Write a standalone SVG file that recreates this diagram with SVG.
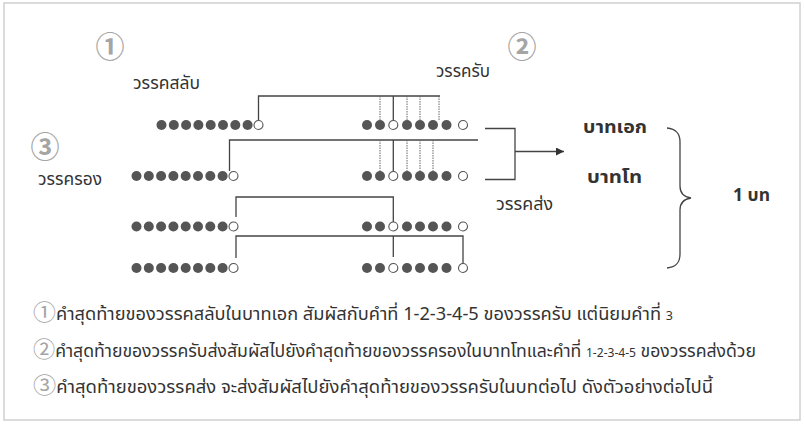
<svg xmlns="http://www.w3.org/2000/svg" width="804" height="425" viewBox="0 0 804 425">
<defs>
<style>
.bg{fill:#fff}
.frame{fill:none;stroke:#d0d0d0;stroke-width:1.5}
.f{fill:#555}
.o{fill:#fff;stroke:#555;stroke-width:1.1}
.ln{fill:none;stroke:#444;stroke-width:1.3}
.dt{fill:none;stroke:#666;stroke-width:1;stroke-dasharray:1.5 1}
.num{font-family:'Noto Sans CJK JP','DejaVu Sans',sans-serif;fill:#a5a5a5}
.big{font-weight:bold}
.lb{font-family:'Noto Sans Thai','Noto Sans','DejaVu Sans',sans-serif;font-size:17px;fill:#333}
.bd{font-family:'Noto Sans Thai','Noto Sans','DejaVu Sans',sans-serif;font-size:18px;font-weight:bold;fill:#333}
.tx{font-family:'Noto Sans Thai','Noto Sans','DejaVu Sans',sans-serif;font-size:17.5px;fill:#333}
</style>
<marker id="ah" viewBox="0 0 10 10" refX="10" refY="5" markerWidth="12" markerHeight="8" markerUnits="userSpaceOnUse" orient="auto"><path d="M0,0L10,5L0,10z" fill="#333"/></marker>
<g id="L"><circle class="f" cx="0" cy="0" r="5"/><circle class="f" cx="12.3" cy="0" r="5"/><circle class="f" cx="24.6" cy="0" r="5"/><circle class="f" cx="36.9" cy="0" r="5"/><circle class="f" cx="49.2" cy="0" r="5"/><circle class="f" cx="61.5" cy="0" r="5"/><circle class="f" cx="73.8" cy="0" r="5"/><circle class="f" cx="86.1" cy="0" r="5"/><circle class="o" cx="97" cy="0" r="4.5"/></g>
<g id="R"><circle class="f" cx="0" cy="0" r="5"/><circle class="f" cx="13" cy="0" r="5"/><circle class="o" cx="26.3" cy="0" r="4.5"/><circle class="f" cx="40" cy="0" r="5"/><circle class="f" cx="53" cy="0" r="5"/><circle class="f" cx="66" cy="0" r="5"/><circle class="f" cx="79.5" cy="0" r="5"/><circle class="o" cx="96" cy="0" r="4.5"/></g>
</defs>
<rect class="bg" x="0" y="0" width="804" height="425"/>
<rect class="frame" x="4" y="3" width="796" height="417"/>

<g id="connectors">
<path class="ln" d="M258.5,120.5V96H440"/>
<path class="dt" d="M380,96V120M407,96V120M420,96V120M439,96V120"/>
<path class="ln" d="M393.3,96V120.5"/>
<path class="ln" d="M229.5,171V140H478"/>
<path class="dt" d="M380,140V171M407,140V171M420,140V171M433,140V171"/>
<path class="ln" d="M393.3,140V171.5"/>
<path class="ln" d="M236,217V197H393.3V222"/>
<path class="ln" d="M236,258V236H463V266"/>
<path class="ln" d="M393.3,236V257"/>
<path class="ln" d="M485,128.5H515V179.5H485"/>
<path class="ln" d="M515,151.5H564" marker-end="url(#ah)"/>
<path class="ln" d="M667,128C676,129 680,133 680,142V186C680,193 684,197 691,198C684,199 680,203 680,210V254C680,263 676,267 667,268"/>
</g>

<g id="row1"><use href="#L" x="161.5" y="125"/><use href="#R" x="367" y="125"/></g>
<g id="row2"><use href="#L" x="136.5" y="176"/><use href="#R" x="367" y="176"/></g>
<g id="row3"><use href="#L" x="136.5" y="226.5"/><use href="#R" x="367" y="226.5"/></g>
<g id="row4"><use href="#L" x="136.5" y="268"/><use href="#R" x="367" y="268"/></g>

<g id="num1"><text class="num big" x="110" y="58" font-size="29" text-anchor="middle">①</text></g>
<g id="num2"><text class="num big" x="522" y="58" font-size="29" text-anchor="middle">②</text></g>
<g id="num3"><text class="num big" x="45" y="158" font-size="29" text-anchor="middle">③</text></g>

<g id="lbl-salap"><text class="lb" x="133" y="89" textLength="67" lengthAdjust="spacingAndGlyphs">วรรคสลับ</text></g>
<g id="lbl-rap"><text class="lb" x="436" y="77" textLength="54" lengthAdjust="spacingAndGlyphs">วรรครับ</text></g>
<g id="lbl-rong"><text class="lb" x="38" y="185" textLength="64" lengthAdjust="spacingAndGlyphs">วรรครอง</text></g>
<g id="lbl-song"><text class="lb" x="496" y="210" textLength="57" lengthAdjust="spacingAndGlyphs">วรรคส่ง</text></g>
<g id="lbl-ek"><text class="bd" x="583" y="133" textLength="64" lengthAdjust="spacingAndGlyphs">บาทเอก</text></g>
<g id="lbl-tho"><text class="bd" x="587" y="183" textLength="55" lengthAdjust="spacingAndGlyphs">บาทโท</text></g>
<g id="lbl-bot"><text class="bd" x="733" y="201" font-size="16" textLength="37" lengthAdjust="spacingAndGlyphs">1 บท</text></g>

<g id="notes">
<text class="tx" x="33" y="320" textLength="640" lengthAdjust="spacingAndGlyphs"><tspan class="num" font-size="22">①</tspan>คำสุดท้ายของวรรคสลับในบาทเอก สัมผัสกับคำที่ 1-2-3-4-5 ของวรรครับ แต่นิยมคำที่ <tspan font-size="12">3</tspan></text>
<text class="tx" x="33" y="357" textLength="723" lengthAdjust="spacingAndGlyphs"><tspan class="num" font-size="22">②</tspan>คำสุดท้ายของวรรครับส่งสัมผัสไปยังคำสุดท้ายของวรรครองในบาทโทและคำที่ <tspan font-size="12">1-2-3-4-5</tspan> ของวรรคส่งด้วย</text>
<text class="tx" x="33" y="393" textLength="680" lengthAdjust="spacingAndGlyphs"><tspan class="num" font-size="22">③</tspan>คำสุดท้ายของวรรคส่ง จะส่งสัมผัสไปยังคำสุดท้ายของวรรครับในบทต่อไป ดังตัวอย่างต่อไปนี้</text>
</g>
</svg>
